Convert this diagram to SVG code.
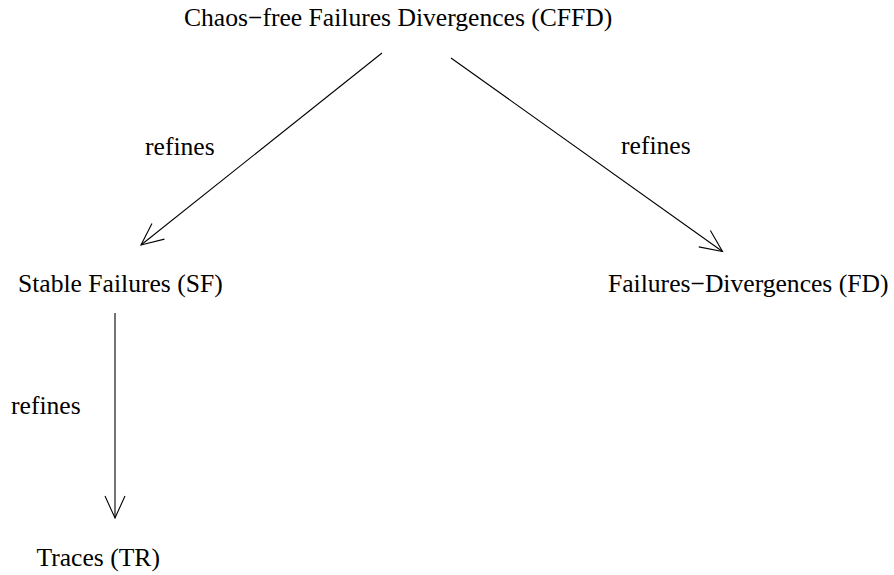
<svg xmlns="http://www.w3.org/2000/svg" width="894" height="575" viewBox="0 0 894 575">
<style>
text { font-family: "Liberation Serif", "Times New Roman", serif; font-size: 25.6px; fill: #000; }
.edge { stroke: #000; stroke-width: 1.1; fill: none; }
</style>
<defs>
<marker id="open" markerUnits="userSpaceOnUse" markerWidth="30" markerHeight="30" viewBox="-25 -13 30 26" refX="0" refY="0" orient="auto" overflow="visible">
<path d="M -22 -10 L 0 0 L -22 10" fill="none" stroke="#000" stroke-width="1.1"/>
</marker>
</defs>
<rect width="894" height="575" fill="#fff"/>
<g id="connectors">
<line class="edge" x1="382" y1="53" x2="141" y2="245" marker-end="url(#open)"/>
<line class="edge" x1="451" y1="58" x2="722.5" y2="251.5" marker-end="url(#open)"/>
<line class="edge" x1="115" y1="313" x2="115" y2="518" marker-end="url(#open)"/>
<text x="145" y="155">refines</text>
<text x="621" y="154">refines</text>
<text x="11" y="414">refines</text>
</g>
<g id="CFFD"><text x="184" y="26">Chaos−free Failures Divergences (CFFD)</text></g>
<g id="SF"><text x="18" y="292">Stable Failures (SF)</text></g>
<g id="FD"><text x="608" y="292">Failures−Divergences (FD)</text></g>
<g id="TR"><text x="36.5" y="566">Traces (TR)</text></g>
</svg>
